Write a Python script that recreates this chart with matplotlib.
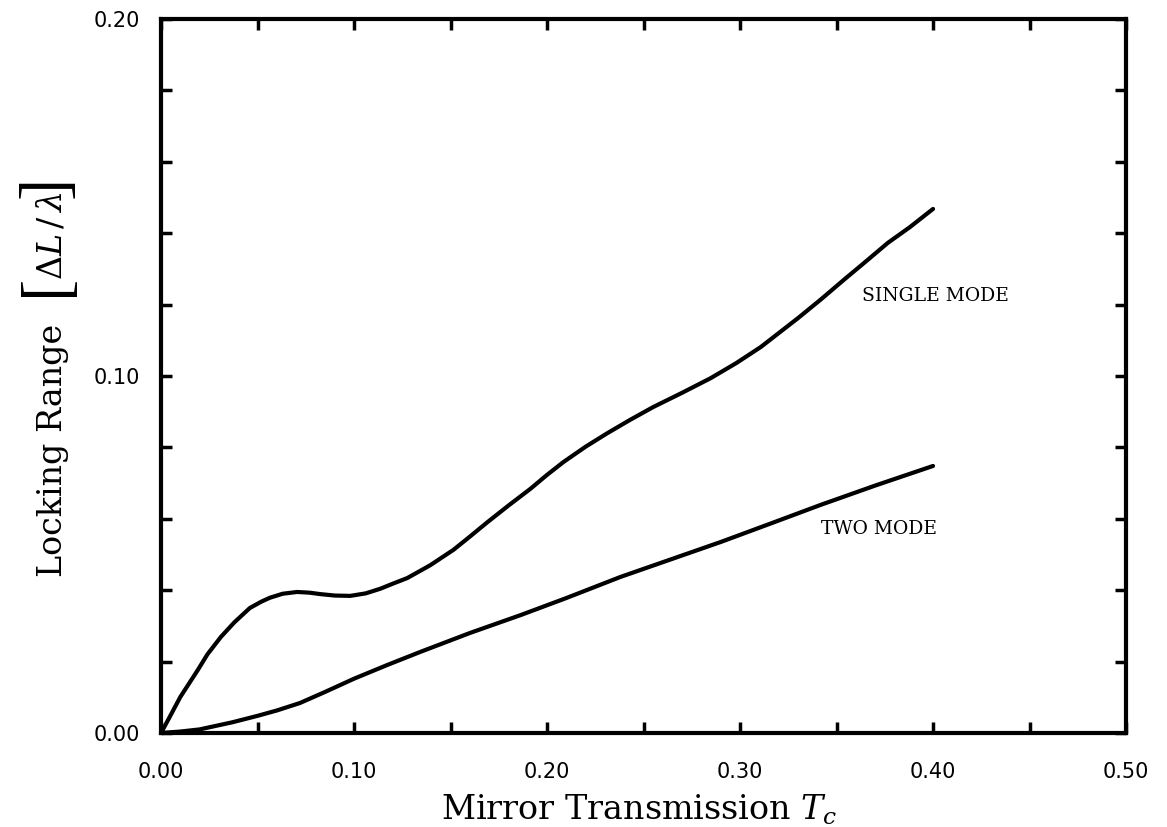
"""
Locking range vs. mirror transmission for single and two mode operation.
"""

import matplotlib.pyplot as plt
import numpy as np

#---------------------------------------
# Data
#---------------------------------------

# Single mode curve
single_x = [0, 0.004, 0.010, 0.019, 0.024, 0.031, 0.038, 0.046, 0.052, 0.0565, 0.063,
            0.0705, 0.077, 0.0825, 0.090, 0.098, 0.106, 0.1136, 0.120, 0.1276, 0.1395,
            0.1515, 0.160, 0.169, 0.180, 0.1914, 0.200, 0.2085, 0.220, 0.2313, 0.243,
            0.255, 0.270, 0.2848, 0.298, 0.3107, 0.320, 0.33, 0.342, 0.3537, 0.365,
            0.3766, 0.388, 0.40]
single_y = [0, 0.0040, 0.0101, 0.0176, 0.0220, 0.0269, 0.0310, 0.0350, 0.0368, 0.0379,
            0.0390, 0.0395, 0.0393, 0.0389, 0.0385, 0.0384, 0.0391, 0.0404, 0.0418,
            0.0434, 0.0470, 0.0513, 0.0550, 0.0590, 0.0637, 0.0684, 0.0723, 0.0759,
            0.0802, 0.0840, 0.0877, 0.0913, 0.0953, 0.0994, 0.1036, 0.1081, 0.1120,
            0.1162, 0.1215, 0.1269, 0.1320, 0.1373, 0.1417, 0.1468]

# Two mode curve
two_x = [0, 0.010, 0.020, 0.037, 0.050, 0.060, 0.072, 0.085, 0.100, 0.117, 0.1343,
         0.160, 0.1862, 0.210, 0.238, 0.264, 0.290, 0.316, 0.3418, 0.370, 0.40]
two_y = [0, 0.0004, 0.0010, 0.0030, 0.0048, 0.0063, 0.0084, 0.0115, 0.0152, 0.0190,
         0.0227, 0.0280, 0.0330, 0.0378, 0.0437, 0.0486, 0.0535, 0.0587, 0.0639,
         0.0693, 0.0748]

x_labels = ["0.00", "0.10", "0.20", "0.30", "0.40", "0.50"]
y_labels = ["0.00", "0.10", "0.20"]

#---------------------------------------
# Plot
#---------------------------------------
plt.rcParams['font.family'] = ['DejaVu Serif']
plt.rcParams['mathtext.fontset'] = 'dejavuserif'

fig = plt.figure(figsize=(11.67, 8.27), dpi=100)
ax = fig.add_axes([0.138, 0.1137, 0.8269, 0.8633])

ax.plot(single_x, single_y, color='black', linewidth=3, solid_capstyle='round')
ax.plot(two_x, two_y, color='black', linewidth=3, solid_capstyle='round')

ax.set_xlim(0, 0.5)
ax.set_ylim(0, 0.2)

# Ticks inside on all sides, labels only every 0.1
ax.set_xticks(np.arange(0, 0.501, 0.05))
ax.set_xticklabels([x_labels[i // 2] if i % 2 == 0 else "" for i in range(11)])
ax.set_yticks(np.arange(0, 0.201, 0.02))
ax.set_yticklabels([y_labels[i // 5] if i % 5 == 0 else "" for i in range(11)])
ax.tick_params(direction='in', top=True, right=True, length=8, width=2.5,
               labelsize=15, labelfontfamily='DejaVu Sans')
ax.tick_params(axis='x', pad=21)
ax.tick_params(axis='y', pad=15)

for spine in ax.spines.values():
    spine.set_linewidth(3)

# Curve labels
ax.text(0.363, 0.1225, "SINGLE MODE", fontsize=13.5, va='center', ha='left')
ax.text(0.342, 0.0572, "TWO MODE", fontsize=13.5, va='center', ha='left')

# X axis label
fig.text(0.548, 0.009, r"Mirror Transmission $T_c$", fontsize=24,
         ha='center', va='baseline')

# Y axis label: text, tall thin brackets and the ratio
fig.text(0.045, 1 - 450 / 827, "Locking Range", fontsize=24, rotation=90,
         ha='center', va='center')
fig.text(0.041, 1 - 285 / 827, "[", fontsize=48, rotation=90,
         ha='center', va='center', family='Liberation Serif')
fig.text(0.045, 1 - 236 / 827, r"$\Delta L\,/\,\lambda$", fontsize=24, rotation=90,
         ha='center', va='center')
fig.text(0.041, 1 - 187 / 827, "]", fontsize=48, rotation=90,
         ha='center', va='center', family='Liberation Serif')

plt.savefig('out.png', dpi=100)
